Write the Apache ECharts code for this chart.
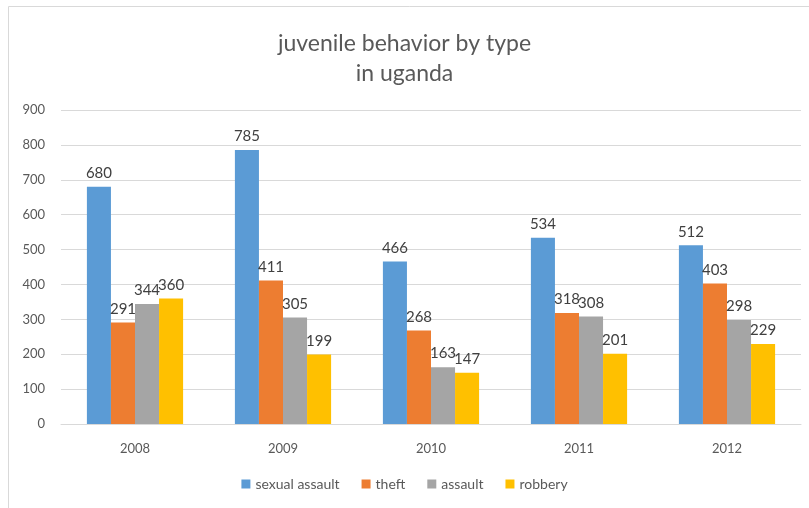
<!DOCTYPE html>
<html>
<head>
<meta charset="utf-8">
<script src="https://cdn.jsdelivr.net/npm/echarts@6/dist/echarts.min.js"></script>
<style>
  html, body { margin: 0; padding: 0; background: #fff; }
  #chart { width: 809px; height: 508px; }
</style>
</head>
<body>
<div id="chart"></div>
<script>
var years = ['2008', '2009', '2010', '2011', '2012'];
var sexualAssault = [680, 785, 466, 534, 512];
var theft = [291, 411, 268, 318, 403];
var assault = [344, 305, 163, 308, 298];
var robbery = [360, 199, 147, 201, 229];
var seriesNames = ['sexual assault', 'theft', 'assault', 'robbery'];
var colors = ['#5B9BD5', '#ED7D31', '#A5A5A5', '#FFC000'];

var font = 'Lato, "Open Sans", sans-serif';
var dom = document.getElementById('chart');
var myChart = echarts.init(dom);

function bar(name, data, color) {
    return {
        name: name,
        type: 'bar',
        data: data,
        barGap: '0%',
        barCategoryGap: '35%',
        itemStyle: { color: color },
        label: {
            show: true,
            position: 'top',
            distance: 6,
            color: '#404040',
            fontSize: 15,
            fontFamily: font
        }
    };
}

var option = {
    animation: false,
    color: colors,
    title: {
        text: 'juvenile behavior by type\nin uganda',
        left: 'center',
        top: 24,
        textStyle: {
            color: '#595959',
            fontSize: 23,
            fontWeight: 'normal',
            fontFamily: font,
            lineHeight: 30
        }
    },
    graphic: [{
        type: 'rect',
        shape: { x: 8.5, y: 6.5, width: 820, height: 520 },
        style: { fill: 'none', stroke: '#d9d9d9', lineWidth: 1 },
        silent: true
    }],
    legend: {
        bottom: 12,
        left: 'center',
        itemWidth: 9,
        itemHeight: 9,
        itemGap: 22,
        icon: 'rect',
        textStyle: { color: '#595959', fontSize: 14, fontFamily: font }
    },
    grid: { left: 61, right: 8, top: 110, bottom: 84 },
    xAxis: {
        type: 'category',
        data: years,
        axisLine: { lineStyle: { color: '#d9d9d9' } },
        axisTick: { show: false },
        axisLabel: { color: '#595959', fontSize: 13, fontFamily: font, margin: 18 }
    },
    yAxis: {
        type: 'value',
        min: 0,
        max: 900,
        interval: 100,
        axisLine: { show: false },
        axisTick: { show: false },
        splitLine: { lineStyle: { color: '#d9d9d9' } },
        axisLabel: { color: '#595959', fontSize: 13, fontFamily: font, margin: 16 }
    },
    series: [
        bar(seriesNames[0], sexualAssault, colors[0]),
        bar(seriesNames[1], theft, colors[1]),
        bar(seriesNames[2], assault, colors[2]),
        bar(seriesNames[3], robbery, colors[3])
    ]
};
myChart.setOption(option, true);
</script>
</body>
</html>
